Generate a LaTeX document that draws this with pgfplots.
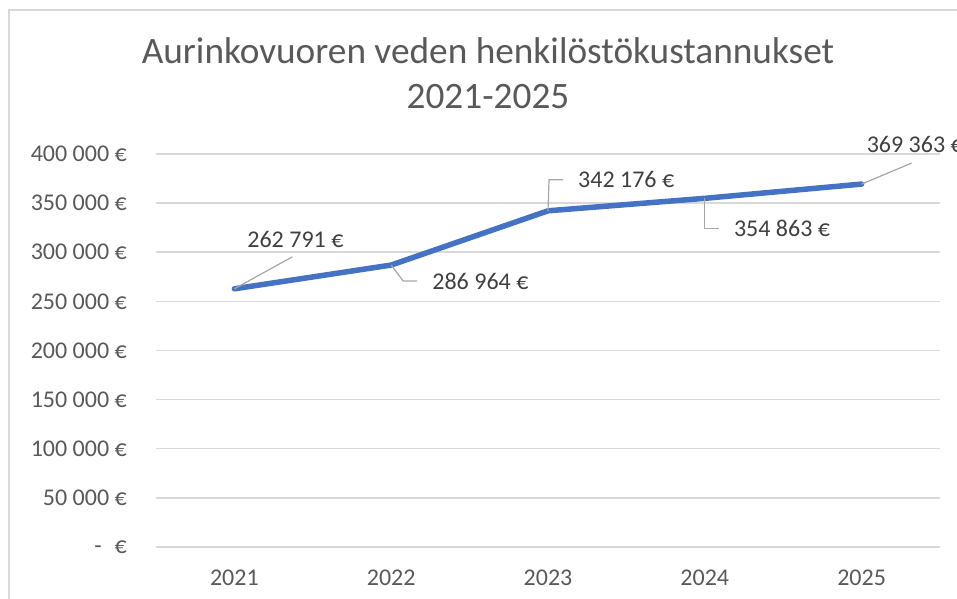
\documentclass[border=0pt]{standalone}
\usepackage{fontspec}
\setmainfont{Carlito}
\usepackage{pgfplots}
\pgfplotsset{compat=1.18}

\definecolor{txtgray}{HTML}{595959}
\definecolor{lblgray}{HTML}{404040}
\definecolor{gridgray}{HTML}{D9D9D9}
\definecolor{leadgray}{HTML}{A6A6A6}
\definecolor{lineblue}{HTML}{4472C4}

\newcommand{\lbl}{\fontsize{24bp}{29bp}\selectfont\color{txtgray}}
\newcommand{\dlbl}{\fontsize{24bp}{29bp}\selectfont\color{lblgray}}

\begin{document}
\begin{tikzpicture}[x=1bp,y=1bp]
  % page size = reference size, 1bp = 1px
  \path[use as bounding box] (0,0) rectangle (957,599);
  % chart area frame (cropped)
  \draw[gridgray, line width=2bp] (9,0) -- (9,589) -- (957,589);

  % title
  \node[anchor=base, inner sep=0, font=\fontsize{37.3bp}{45bp}\selectfont, text=txtgray]
    at (488,535) {Aurinkovuoren veden henkilöstökustannukset};
  \node[anchor=base, inner sep=0, font=\fontsize{37.3bp}{45bp}\selectfont, text=txtgray]
    at (488,490) {2021-2025};

  \begin{axis}[
    at={(156bp,52bp)}, anchor=south west,
    scale only axis,
    width=784bp, height=393bp,
    xmin=2020.5, xmax=2025.5,
    ymin=0, ymax=400000,
    xtick={2021,2022,2023,2024,2025},
    xticklabels={2021,2022,2023,2024,2025},
    ytick={0,50000,...,400000},
    scaled y ticks=false,
    yticklabels={{-\hspace{13bp}€},{50 000 €},{100 000 €},{150 000 €},{200 000 €},{250 000 €},{300 000 €},{350 000 €},{400 000 €}},
    axis line style={draw=none},
    major tick length=0pt,
    ymajorgrids,
    grid style={gridgray, line width=1.5bp},
    tick label style={font=\lbl, inner sep=0pt},
    xticklabel style={anchor=center, yshift=-31bp},
    yticklabel style={anchor=east, xshift=-29bp},
    clip=false,
  ]
    \addplot[lineblue, line width=5.5bp, line join=round, line cap=round] coordinates {
      (2021,262791) (2022,286964) (2023,342176) (2024,354863) (2025,369363)
    };

    % data labels with leader lines
    \draw[leadgray, line width=1.2bp] (axis cs:2021,262791) -- ++(58bp,32bp);
    \node[anchor=center, inner sep=0, font=\dlbl, xshift=61bp, yshift=49bp] at (axis cs:2021,262791) {262 791 €};

    \draw[leadgray, line width=1.2bp] (axis cs:2022,286964) -- ++(12bp,-16bp) -- ++(14bp,0bp);
    \node[anchor=west, inner sep=0, font=\dlbl, xshift=41bp, yshift=-16bp] at (axis cs:2022,286964) {286 964 €};

    \draw[leadgray, line width=1.2bp] (axis cs:2023,342176) -- ++(1bp,31bp) -- ++(14bp,0bp);
    \node[anchor=west, inner sep=0, font=\dlbl, xshift=30bp, yshift=31bp] at (axis cs:2023,342176) {342 176 €};

    \draw[leadgray, line width=1.2bp] (axis cs:2024,354863) -- ++(0bp,-30bp) -- ++(14bp,0bp);
    \node[anchor=west, inner sep=0, font=\dlbl, xshift=29bp, yshift=-30bp] at (axis cs:2024,354863) {354 863 €};

    \draw[leadgray, line width=1.2bp] (axis cs:2025,369363) -- ++(50bp,21bp);
    \node[anchor=west, inner sep=0, font=\dlbl, xshift=5bp, yshift=40bp] at (axis cs:2025,369363) {369 363 €};
  \end{axis}
\end{tikzpicture}
\end{document}
